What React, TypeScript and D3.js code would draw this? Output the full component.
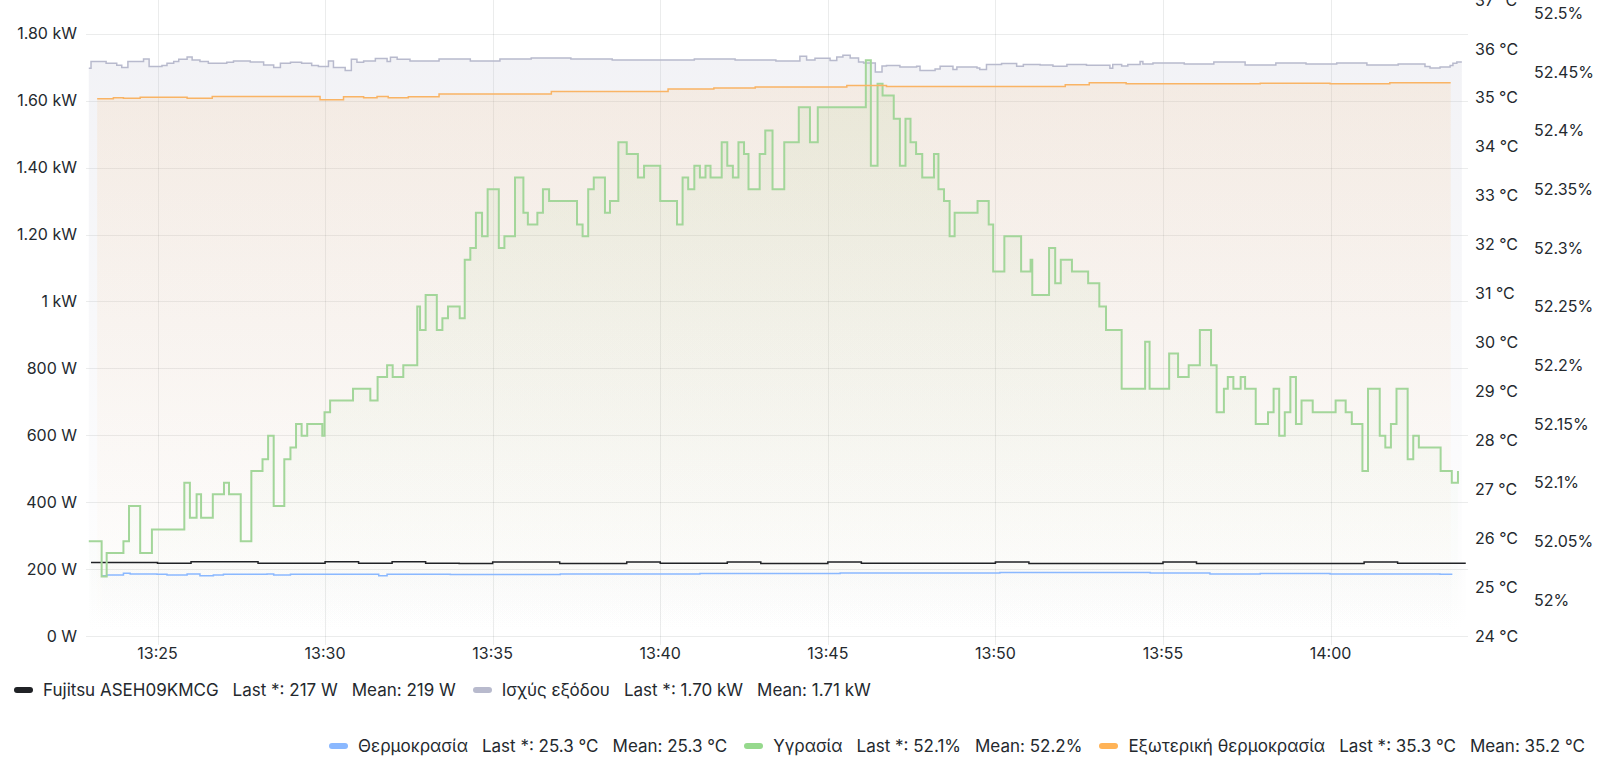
import React from "react";
import * as d3 from "d3";

// ---------- data ----------
const timeDomain = ["13:22:52", "14:04:06"];
const timeTicks = ["13:25", "13:30", "13:35", "13:40", "13:45", "13:50", "13:55", "14:00"];

const powerTicks = [0, 200, 400, 600, 800, 1000, 1200, 1400, 1600, 1800];
const powerTickLabels = ["0 W", "200 W", "400 W", "600 W", "800 W", "1 kW", "1.20 kW", "1.40 kW", "1.60 kW", "1.80 kW"];
const powerDomain = [0, 1901];

const tempTicks = [24, 25, 26, 27, 28, 29, 30, 31, 32, 33, 34, 35, 36, 37];
const tempTickLabels = tempTicks.map((d) => `${d} °C`);
const tempDomain = [24, 37];

const humTicks = [52, 52.05, 52.1, 52.15, 52.2, 52.25, 52.3, 52.35, 52.4, 52.45, 52.5];
const humTickLabels = ["52%", "52.05%", "52.1%", "52.15%", "52.2%", "52.25%", "52.3%", "52.35%", "52.4%", "52.45%", "52.5%"];
const humDomain = [51.9693, 52.5113];

// Fujitsu ASEH09KMCG (W)
const fujitsu: [string, number][] = [
  ["13:23:01", 220], ["13:25:00", 217.5], ["13:26:00", 222], ["13:28:00", 217.5], ["13:30:00", 222],
  ["13:31:00", 217.5], ["13:32:00", 222], ["13:33:00", 217.5], ["13:34:00", 216.5], ["13:35:00", 221],
  ["13:37:00", 217], ["13:39:00", 221], ["13:40:00", 217.5], ["13:42:00", 221], ["13:43:00", 217],
  ["13:45:00", 221], ["13:46:00", 217.5], ["13:50:00", 221], ["13:51:00", 217], ["13:55:00", 221],
  ["13:56:00", 217], ["14:01:00", 221.5], ["14:02:00", 217.5], ["14:04:02", 217.5],
];

// Ισχύς εξόδου (W)
const outputPower: [string, number][] = [
  ["13:22:57", 1697], ["13:23:01", 1717], ["13:23:28", 1712], ["13:23:47", 1706], ["13:23:56", 1699],
  ["13:24:07", 1717], ["13:24:35", 1725], ["13:24:45", 1702], ["13:25:08", 1705], ["13:25:17", 1712],
  ["13:25:29", 1717], ["13:25:38", 1724], ["13:25:53", 1731], ["13:26:02", 1722], ["13:26:16", 1717],
  ["13:26:31", 1712], ["13:27:04", 1715], ["13:27:16", 1719], ["13:27:46", 1716], ["13:28:10", 1707],
  ["13:28:28", 1699], ["13:28:40", 1712], ["13:28:58", 1715], ["13:29:18", 1712], ["13:29:36", 1705],
  ["13:29:48", 1702], ["13:30:06", 1719], ["13:30:15", 1699], ["13:30:36", 1690], ["13:30:47", 1724],
  ["13:30:57", 1715], ["13:31:09", 1719], ["13:31:30", 1726], ["13:31:51", 1717], ["13:31:57", 1730],
  ["13:32:09", 1724], ["13:32:32", 1719], ["13:33:24", 1725], ["13:34:20", 1719], ["13:35:13", 1725],
  ["13:36:09", 1728], ["13:37:20", 1725], ["13:38:34", 1722], ["13:39:47", 1722], ["13:41:01", 1725],
  ["13:42:14", 1722], ["13:43:27", 1719], ["13:44:10", 1733], ["13:44:22", 1722], ["13:44:37", 1727],
  ["13:45:04", 1720], ["13:45:16", 1731], ["13:45:27", 1736], ["13:45:40", 1728], ["13:45:55", 1716],
  ["13:46:04", 1713], ["13:46:25", 1686], ["13:46:37", 1704], ["13:46:45", 1705], ["13:47:09", 1701],
  ["13:47:39", 1703], ["13:47:45", 1690], ["13:48:12", 1695], ["13:48:21", 1703], ["13:48:44", 1693],
  ["13:48:51", 1701], ["13:49:27", 1698], ["13:49:32", 1693], ["13:49:44", 1708], ["13:50:11", 1711],
  ["13:50:38", 1703], ["13:50:50", 1708], ["13:51:20", 1707], ["13:51:43", 1703], ["13:52:08", 1708],
  ["13:52:43", 1706], ["13:53:25", 1697], ["13:53:30", 1708], ["13:53:46", 1704], ["13:53:57", 1708],
  ["13:54:19", 1717], ["13:54:24", 1710], ["13:54:42", 1713], ["13:55:38", 1710], ["13:56:31", 1716],
  ["13:57:27", 1707], ["13:58:22", 1713], ["13:59:16", 1710], ["14:00:11", 1713], ["14:01:05", 1707],
  ["14:02:01", 1710], ["14:02:49", 1702], ["14:02:58", 1698], ["14:03:16", 1701], ["14:03:34", 1705],
  ["14:03:39", 1712], ["14:03:46", 1716], ["14:03:55", 1716],
];

// Θερμοκρασία (°C)
const indoorTemp: [string, number][] = [
  ["13:23:20", 25.233], ["13:23:29", 25.247], ["13:23:59", 25.282], ["13:24:11", 25.267], ["13:24:59", 25.261],
  ["13:25:17", 25.247], ["13:25:53", 25.267], ["13:26:16", 25.233], ["13:26:40", 25.247], ["13:26:58", 25.261],
  ["13:28:16", 25.267], ["13:28:28", 25.247], ["13:28:58", 25.261], ["13:31:36", 25.233], ["13:31:51", 25.261],
  ["13:33:44", 25.257], ["13:37:01", 25.267], ["13:41:11", 25.277], ["13:45:22", 25.288], ["13:50:08", 25.298],
  ["13:54:37", 25.288], ["13:56:24", 25.267], ["13:57:54", 25.277], ["13:59:59", 25.267], ["14:03:16", 25.261],
  ["14:03:38", 25.261],
];

// Υγρασία (%)
const humidity: [string, number][] = [
  ["13:22:57", 52.05], ["13:23:20", 52.02], ["13:23:29", 52.04], ["13:23:59", 52.05], ["13:24:09", 52.08],
  ["13:24:29", 52.04], ["13:24:50", 52.06], ["13:25:48", 52.10], ["13:25:58", 52.07], ["13:26:10", 52.09],
  ["13:26:18", 52.07], ["13:26:39", 52.09], ["13:26:59", 52.10], ["13:27:08", 52.09], ["13:27:29", 52.05],
  ["13:27:48", 52.11], ["13:28:08", 52.12], ["13:28:18", 52.14], ["13:28:28", 52.08], ["13:28:47", 52.12],
  ["13:28:58", 52.13], ["13:29:08", 52.15], ["13:29:18", 52.14], ["13:29:28", 52.15], ["13:29:55", 52.14],
  ["13:29:59", 52.16], ["13:30:09", 52.17], ["13:30:50", 52.18], ["13:31:21", 52.17], ["13:31:34", 52.19],
  ["13:31:51", 52.20], ["13:32:01", 52.19], ["13:32:20", 52.20], ["13:32:45", 52.25], ["13:32:50", 52.23],
  ["13:33:00", 52.26], ["13:33:20", 52.23], ["13:33:30", 52.24], ["13:33:40", 52.25], ["13:34:01", 52.24],
  ["13:34:10", 52.29], ["13:34:20", 52.30], ["13:34:30", 52.33], ["13:34:41", 52.31], ["13:34:51", 52.35],
  ["13:35:11", 52.30], ["13:35:21", 52.31], ["13:35:40", 52.36], ["13:35:55", 52.33], ["13:36:03", 52.32],
  ["13:36:20", 52.33], ["13:36:30", 52.35], ["13:36:41", 52.34], ["13:37:31", 52.32], ["13:37:41", 52.31],
  ["13:37:51", 52.35], ["13:38:01", 52.36], ["13:38:21", 52.33], ["13:38:30", 52.34], ["13:38:45", 52.39],
  ["13:39:00", 52.38], ["13:39:20", 52.36], ["13:39:31", 52.37], ["13:40:00", 52.34], ["13:40:30", 52.32],
  ["13:40:40", 52.36], ["13:40:50", 52.35], ["13:41:01", 52.37], ["13:41:11", 52.36], ["13:41:21", 52.37],
  ["13:41:30", 52.36], ["13:41:50", 52.39], ["13:42:00", 52.37], ["13:42:10", 52.36], ["13:42:20", 52.39],
  ["13:42:30", 52.38], ["13:42:38", 52.35], ["13:42:58", 52.38], ["13:43:08", 52.40], ["13:43:21", 52.35],
  ["13:43:42", 52.39], ["13:44:08", 52.42], ["13:44:28", 52.39], ["13:44:42", 52.42], ["13:46:08", 52.46],
  ["13:46:17", 52.37], ["13:46:29", 52.44], ["13:46:38", 52.43], ["13:46:58", 52.41], ["13:47:09", 52.37],
  ["13:47:19", 52.41], ["13:47:28", 52.39], ["13:47:38", 52.38], ["13:47:49", 52.36], ["13:48:10", 52.38],
  ["13:48:18", 52.35], ["13:48:28", 52.34], ["13:48:38", 52.31], ["13:48:47", 52.33], ["13:49:28", 52.34],
  ["13:49:48", 52.32], ["13:49:56", 52.28], ["13:50:16", 52.31], ["13:50:46", 52.28], ["13:51:03", 52.29],
  ["13:51:06", 52.26], ["13:51:36", 52.30], ["13:51:47", 52.27], ["13:51:57", 52.29], ["13:52:17", 52.28],
  ["13:52:46", 52.27], ["13:53:06", 52.25], ["13:53:18", 52.23], ["13:53:46", 52.18], ["13:54:28", 52.22],
  ["13:54:36", 52.18], ["13:55:11", 52.21], ["13:55:27", 52.19], ["13:55:46", 52.20], ["13:56:06", 52.23],
  ["13:56:26", 52.20], ["13:56:36", 52.16], ["13:56:49", 52.18], ["13:56:56", 52.19], ["13:57:06", 52.18],
  ["13:57:19", 52.19], ["13:57:27", 52.18], ["13:57:46", 52.15], ["13:58:08", 52.16], ["13:58:18", 52.18],
  ["13:58:28", 52.14], ["13:58:38", 52.16], ["13:58:48", 52.19], ["13:58:58", 52.15], ["13:59:08", 52.17],
  ["13:59:28", 52.16], ["14:00:09", 52.17], ["14:00:27", 52.16], ["14:00:38", 52.15], ["14:00:57", 52.11],
  ["14:01:07", 52.18], ["14:01:28", 52.14], ["14:01:38", 52.13], ["14:01:48", 52.15], ["14:01:58", 52.18],
  ["14:02:18", 52.12], ["14:02:28", 52.14], ["14:02:38", 52.13], ["14:03:17", 52.11], ["14:03:37", 52.10],
  ["14:03:48", 52.11],
];

// Εξωτερική θερμοκρασία (°C)
const outdoorTemp: [string, number][] = [
  ["13:23:12", 34.98], ["13:23:41", 35.0], ["13:23:59", 34.99], ["13:24:29", 35.01], ["13:25:53", 34.99],
  ["13:26:38", 35.03], ["13:29:51", 34.96], ["13:30:33", 35.02], ["13:31:09", 35.0], ["13:31:33", 35.03],
  ["13:31:53", 35.0], ["13:32:29", 35.02], ["13:33:24", 35.08], ["13:36:45", 35.13], ["13:40:14", 35.18],
  ["13:41:36", 35.2], ["13:42:50", 35.22], ["13:45:34", 35.25], ["13:46:45", 35.23], ["13:52:05", 35.27],
  ["13:52:48", 35.31], ["13:53:54", 35.29], ["13:57:54", 35.3], ["13:59:59", 35.29], ["14:01:46", 35.31],
  ["14:03:35", 35.31],
];

type LegendEntry = { name: string; color: string; last: string; mean: string };
const legendLeft: LegendEntry[] = [
  { name: "Fujitsu ASEH09KMCG", color: "#202226", last: "217 W", mean: "219 W" },
  { name: "Ισχύς εξόδου", color: "#b8bacd", last: "1.70 kW", mean: "1.71 kW" },
];
const legendRight: LegendEntry[] = [
  { name: "Θερμοκρασία", color: "#8ab8ff", last: "25.3 °C", mean: "25.3 °C" },
  { name: "Υγρασία", color: "#96d98d", last: "52.1%", mean: "52.2%" },
  { name: "Εξωτερική θερμοκρασία", color: "#ffb357", last: "35.3 °C", mean: "35.2 °C" },
];

// ---------- helpers ----------
const parseT = (s: string) => {
  const [h, m, sec] = s.split(":").map(Number);
  return new Date(2024, 6, 15, h, m, sec || 0);
};

const W = 1600;
const H = 757;
const plot = { left: 86, right: 1468, top: 0, bottom: 636 };
const FONT = "Inter, 'Noto Sans', sans-serif";
const TEXT = "#24292e";

export default function App() {
  const x = d3.scaleTime().domain(timeDomain.map(parseT)).range([plot.left, plot.right]);
  const yPower = d3.scaleLinear().domain(powerDomain).range([plot.bottom, plot.top]);
  const yTemp = d3.scaleLinear().domain(tempDomain).range([plot.bottom, plot.top]);
  const yHum = d3.scaleLinear().domain(humDomain).range([plot.bottom, plot.top]);

  const series = [
    { id: "fujitsu", data: fujitsu, y: yPower, color: "#202226", width: 1.5, fill: 0.08 },
    { id: "output", data: outputPower, y: yPower, color: "#b8bacd", width: 1.5, fill: 0.2 },
    { id: "indoor", data: indoorTemp, y: yTemp, color: "#8ab8ff", width: 1.5, fill: 0.14 },
    { id: "hum", data: humidity, y: yHum, color: "#a3d69a", width: 2, fill: 0.17 },
    { id: "outdoor", data: outdoorTemp, y: yTemp, color: "#f9b465", width: 1.5, fill: 0.15 },
  ];

  const paths = series.map((s) => {
    const pts = s.data.map(([t, v]) => [x(parseT(t)), s.y(v)] as [number, number]);
    const line = d3.line().curve(d3.curveStepAfter)(pts) || "";
    const area =
      d3
        .area()
        .curve(d3.curveStepAfter)
        .x((d) => d[0])
        .y0(plot.bottom)
        .y1((d) => d[1])(pts) || "";
    return { ...s, line, area };
  });

  const xTicks = timeTicks.map((t) => parseT(t));

  return (
    <div style={{ position: "absolute", left: 0, top: 0, width: W, height: H, background: "#fff", fontFamily: FONT }}>
      <svg width={W} height={H} style={{ position: "absolute", left: 0, top: 0 }}>
        <defs>
          {paths.map((p) => (
            <linearGradient key={p.id} id={`g-${p.id}`} gradientUnits="userSpaceOnUse" x1={0} y1={plot.top} x2={0} y2={plot.bottom}>
              <stop offset="0" stopColor={p.color} stopOpacity={p.fill} />
              <stop offset="1" stopColor={p.color} stopOpacity={0} />
            </linearGradient>
          ))}
          <clipPath id="plotClip">
            <rect x={plot.left} y={plot.top} width={plot.right - plot.left} height={plot.bottom - plot.top} />
          </clipPath>
        </defs>

        {/* grid */}
        <g stroke="rgba(36,41,46,0.09)" strokeWidth={1}>
          {powerTicks.map((v) => (
            <line key={`h${v}`} x1={plot.left} x2={plot.right} y1={Math.round(yPower(v)) + 0.5} y2={Math.round(yPower(v)) + 0.5} />
          ))}
          {xTicks.map((t, i) => (
            <line key={`v${i}`} x1={Math.round(x(t)) + 0.5} x2={Math.round(x(t)) + 0.5} y1={plot.top} y2={plot.bottom + 9} />
          ))}
        </g>

        {/* fills and lines */}
        <g clipPath="url(#plotClip)">
          {paths.map((p) => (
            <path key={`a${p.id}`} d={p.area} fill={`url(#g-${p.id})`} stroke="none" />
          ))}
          {paths.map((p) => (
            <path key={`l${p.id}`} d={p.line} fill="none" stroke={p.color} strokeWidth={p.width} strokeLinejoin="miter" />
          ))}
        </g>

        {/* left axis */}
        <g fontSize={16} fill={TEXT} textAnchor="end">
          {powerTicks.map((v, i) => (
            <text key={v} x={77} y={yPower(v)} dy="0.35em">
              {powerTickLabels[i]}
            </text>
          ))}
        </g>
        {/* temp axis */}
        <g fontSize={16} fill={TEXT} textAnchor="start">
          {tempTicks.map((v, i) => (
            <text key={v} x={1475} y={yTemp(v)} dy="0.35em">
              {tempTickLabels[i]}
            </text>
          ))}
        </g>
        {/* humidity axis */}
        <g fontSize={16} fill={TEXT} textAnchor="start">
          {humTicks.map((v, i) => (
            <text key={v} x={1534} y={yHum(v)} dy="0.35em">
              {humTickLabels[i]}
            </text>
          ))}
        </g>
        {/* x axis */}
        <g fontSize={16} fill={TEXT} textAnchor="middle">
          {xTicks.map((t, i) => (
            <text key={i} x={x(t)} y={653} dy="0.35em">
              {timeTicks[i]}
            </text>
          ))}
        </g>
      </svg>

      <Legend entries={legendLeft} style={{ left: 14, top: 680 }} />
      <Legend entries={legendRight} style={{ right: 15, top: 736 }} />
    </div>
  );
}

function Legend({ entries, style }: { entries: LegendEntry[]; style: React.CSSProperties }) {
  return (
    <div
      style={{
        position: "absolute",
        height: 20,
        display: "flex",
        alignItems: "center",
        fontSize: 17,
        color: TEXT,
        whiteSpace: "nowrap",
        ...style,
      }}
    >
      {entries.map((e, i) => (
        <div key={e.name} style={{ display: "flex", alignItems: "center", marginLeft: i === 0 ? 0 : 17 }}>
          <span style={{ display: "inline-block", width: 19, height: 6, borderRadius: 3, background: e.color, marginRight: 10 }} />
          <span>{e.name}</span>
          <span style={{ marginLeft: 14 }}>Last *: {e.last}</span>
          <span style={{ marginLeft: 14 }}>Mean: {e.mean}</span>
        </div>
      ))}
    </div>
  );
}
